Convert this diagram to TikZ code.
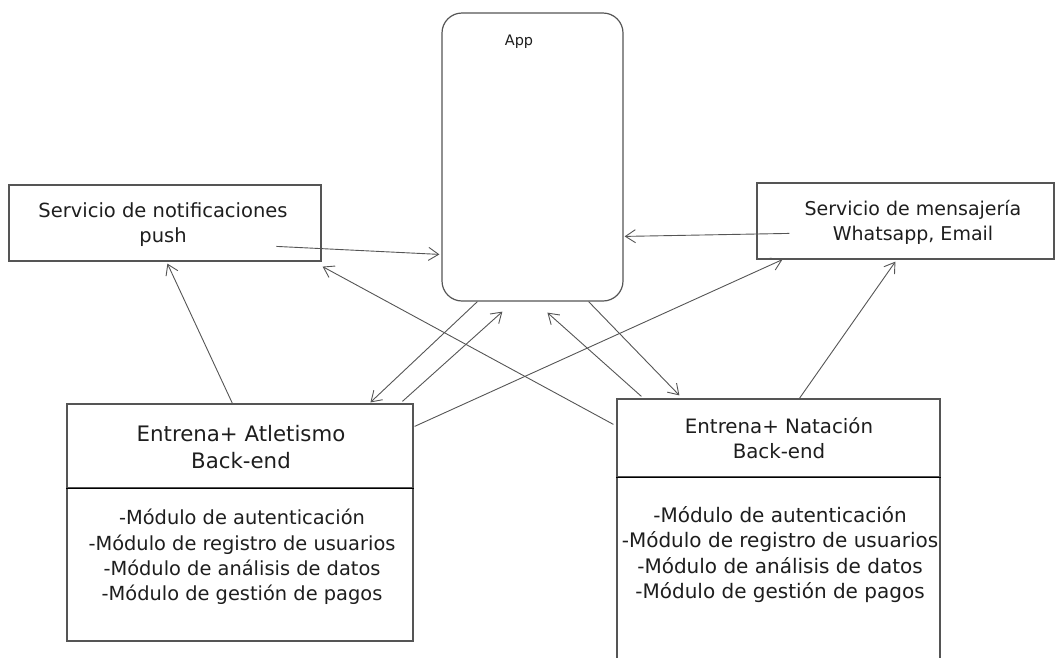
\documentclass[tikz,border=0pt]{standalone}
\usepackage{fontspec}
\setmainfont{DejaVu Sans}
\usetikzlibrary{arrows.meta,calc}
\definecolor{edge}{RGB}{85,85,85}
\definecolor{ink}{RGB}{30,30,30}
\begin{document}
\begin{tikzpicture}[x=1pt,y=-1pt,
  box/.style={draw=edge,line width=1.2pt,rectangle,inner sep=0pt,fill=white},
  txt/.style={align=center,inner sep=0pt,text=ink},
  conn/.style={draw=edge,line width=0.9pt,-{Straight Barb[length=10pt,width=13pt]}}]
\useasboundingbox (0,0) rectangle (1056,657);
% boxes
\node[box,rounded corners=20pt,minimum width=181pt,minimum height=288pt] (app) at (532.5,157) {};
\node[txt,font=\fontsize{14.5}{18}\selectfont] (applbl) at (519,42) {App};
\node[box,minimum width=312pt,minimum height=76pt] (notif) at (165,223) {};
\node[txt,font=\fontsize{19.5}{25}\selectfont] (notiftxt) at (163,225) {Servicio de notificaciones\\push};
\node[box,minimum width=297pt,minimum height=76pt] (msg) at (905.5,221) {};
\node[txt,font=\fontsize{19}{25}\selectfont] (msgtxt) at (913,222) {Servicio de mensajería\\Whatsapp, Email};
% Atletismo
\node[box,minimum width=346pt,minimum height=153pt] (atlb) at (240,564.5) {};
\node[box,minimum width=346pt,minimum height=84pt] (atlh) at (240,446) {};
\draw[black,line width=1.4pt] (atlh.south west) -- (atlh.south east);
\node[txt,font=\fontsize{21.3}{27}\selectfont] (atltxt) at (241,447) {Entrena+ Atletismo\\Back-end};
\node[txt,font=\fontsize{19.4}{25.3}\selectfont] (atlmods) at (242,557) {-Módulo de autenticación\\-Módulo de registro de usuarios\\-Módulo de análisis de datos\\-Módulo de gestión de pagos};
% Natacion
\node[box,minimum width=323pt,minimum height=243pt] (natb) at (778.5,598.5) {};
\node[box,minimum width=323pt,minimum height=78pt] (nath) at (778.5,438) {};
\draw[black,line width=1.4pt] (nath.south west) -- (nath.south east);
\node[txt,font=\fontsize{19.8}{25}\selectfont] (nattxt) at (779,438.5) {Entrena+ Natación\\Back-end};
\node[txt,font=\fontsize{20}{25.5}\selectfont] (natmods) at (780,554.5) {-Módulo de autenticación\\-Módulo de registro de usuarios\\-Módulo de análisis de datos\\-Módulo de gestión de pagos};
% connectors
\draw[conn] ($(notif.north west)+(268,62)$) -- ($(app.north west)+(-2,242)$);
\draw[conn] ($(msg.north west)+(33,51)$) -- ($(app.north east)+(1,224)$);
\draw[conn] ($(atlh.north west)+(166,0)$) -- ($(notif.south west)+(159,2)$);
\draw[conn] ($(nath.north west)+(-3,26)$) -- ($(notif.south east)+(1,5)$);
\draw[conn] ($(app.south west)+(36,0)$) -- ($(atlh.north west)+(304,-1)$);
\draw[conn] ($(atlh.north west)+(336,-2)$) -- ($(app.south west)+(61,10)$);
\draw[conn] ($(atlh.north east)+(1,23)$) -- ($(msg.south west)+(26,0)$);
\draw[conn] ($(nath.north west)+(25,-2)$) -- ($(app.south west)+(106,11)$);
\draw[conn] ($(app.south east)+(-35,0)$) -- ($(nath.north west)+(63,-3)$);
\draw[conn] ($(nath.north west)+(183,0)$) -- ($(msg.south west)+(139,2)$);
\end{tikzpicture}
\end{document}
